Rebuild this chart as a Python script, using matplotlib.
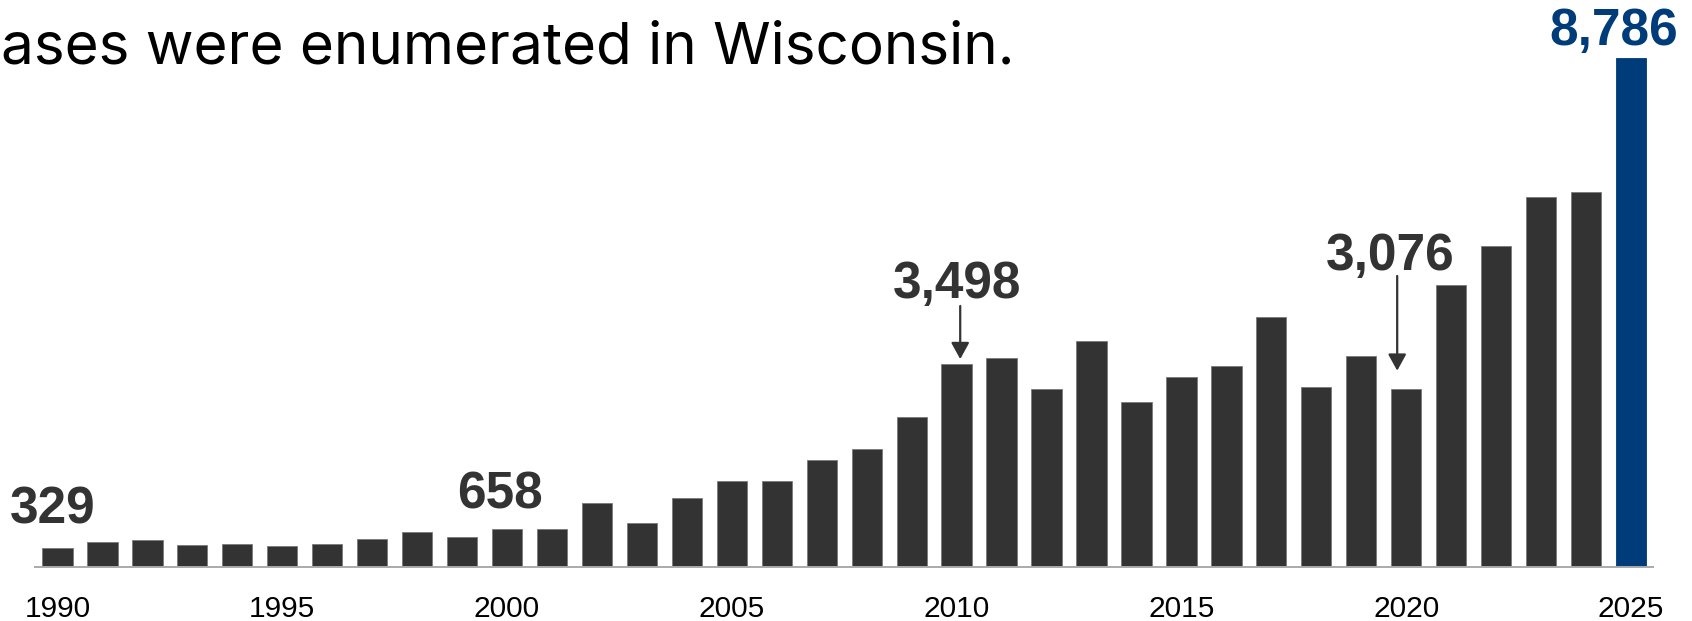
import matplotlib
matplotlib.use("Agg")
import matplotlib.pyplot as plt

# ------------------------------------------------------------
# Data: annual case counts, 1990-2025
# ------------------------------------------------------------
years = list(range(1990, 2026))
cases = [
    329, 434, 474, 381, 399, 370, 405, 486, 607, 514,   # 1990s
    658, 653, 1107, 761, 1193, 1482, 1488, 1839, 2041, 2583,  # 2000s
    3498, 3614, 3070, 3903, 2845, 3273, 3469, 4307, 3105, 3648,  # 2010s
    3076, 4865, 5540, 6382, 6474, 8786,  # 2020s
]
tick_years = [1990, 1995, 2000, 2005, 2010, 2015, 2020, 2025]
title_text = "ases were enumerated in Wisconsin."

# callouts: (year, label x-shift in bar units, label baseline, arrow?)
callouts = [
    (1990, -0.11, 759, False),
    (2000, -0.15, 1018, False),
    (2010, 0.0, 4643, True),
    (2020, -0.36, 5126, True),
]

BAR_GRAY = "#333333"
NAVY = "#003b7a"
FONT = ["Liberation Sans", "DejaVu Sans"]

plt.rcParams["font.family"] = FONT

fig = plt.figure(figsize=(16.92, 6.21), dpi=100)
W, H = 1692, 621
ax = fig.add_axes([35 / W, 54 / H, 1618 / W, 567 / H])

colors = [BAR_GRAY] * (len(years) - 1) + [NAVY]
edges = ["#7a7a7a"] * (len(years) - 1) + [NAVY]
ax.bar(years, cases, width=0.674, color=colors, edgecolor=edges, linewidth=0.6, zorder=2)

ax.set_xlim(1989.5, 2025.49)
ax.set_ylim(0, 9786)

for side in ("left", "right", "top"):
    ax.spines[side].set_visible(False)
ax.spines["bottom"].set_color("#aaaaaa")
ax.spines["bottom"].set_linewidth(1.4)
ax.spines["bottom"].set_zorder(3)
ax.set_yticks([])
ax.set_xticks(tick_years)
ax.set_xticklabels([str(y) for y in tick_years], fontsize=21.5, color="black")
ax.tick_params(axis="x", length=0, pad=20)

# value callouts
for yr, dx, ylab, arrow in callouts:
    val = cases[years.index(yr)]
    ax.text(yr + dx, ylab, f"{val:,}", ha="center", va="baseline",
            fontsize=37, fontweight="bold", color=BAR_GRAY)
    if arrow:
        ax_x = yr - 0.2 if yr == 2020 else yr + 0.08
        top = ylab - 138 if yr == 2010 else ylab - 103
        ax.annotate("", xy=(ax_x, val + 90 if yr == 2010 else val + 312),
                    xytext=(ax_x, top),
                    arrowprops=dict(arrowstyle="-|>,head_length=0.4,head_width=0.22",
                                    mutation_scale=25, color=BAR_GRAY, lw=1.6,
                                    shrinkA=0, shrinkB=0))

# highlighted latest year
last = cases[-1]
ax.text(years[-1] - 0.38, 9010, f"{last:,}", ha="center", va="baseline",
        fontsize=37, fontweight="bold", color=NAVY, clip_on=False)

fig.text(1 / W, (H - 63) / H, title_text, ha="left", va="baseline",
         fontsize=42, color="black", family=["Inter", "DejaVu Sans"])

fig.savefig("out.png", dpi=100, facecolor="white")
